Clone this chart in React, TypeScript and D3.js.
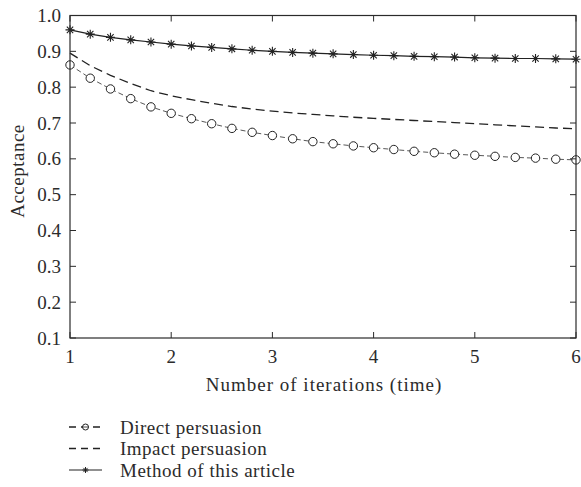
import React, { useEffect, useRef } from 'react';
import * as d3 from 'd3';

// iterations sampled every 0.2
const iterations = [1, 1.2, 1.4, 1.6, 1.8, 2, 2.2, 2.4, 2.6, 2.8, 3, 3.2, 3.4, 3.6, 3.8, 4, 4.2, 4.4, 4.6, 4.8, 5, 5.2, 5.4, 5.6, 5.8, 6];

const directPersuasion = [0.862, 0.825, 0.795, 0.768, 0.745, 0.727, 0.712, 0.698, 0.685, 0.674, 0.665, 0.656, 0.648, 0.642, 0.636, 0.631, 0.626, 0.621, 0.617, 0.613, 0.61, 0.607, 0.604, 0.602, 0.599, 0.597];
const impactPersuasion = [0.895, 0.86, 0.833, 0.81, 0.79, 0.776, 0.765, 0.755, 0.746, 0.739, 0.733, 0.728, 0.724, 0.72, 0.716, 0.713, 0.71, 0.707, 0.704, 0.701, 0.698, 0.695, 0.692, 0.689, 0.686, 0.684];
const methodArticle = [0.96, 0.948, 0.939, 0.932, 0.926, 0.92, 0.915, 0.911, 0.907, 0.903, 0.9, 0.897, 0.895, 0.893, 0.891, 0.889, 0.888, 0.886, 0.885, 0.884, 0.882, 0.881, 0.88, 0.88, 0.879, 0.878];

const xTicks = [1, 2, 3, 4, 5, 6];
const yTicks = [0.1, 0.2, 0.3, 0.4, 0.5, 0.6, 0.7, 0.8, 0.9, 1.0];
const legendLabels = ['Direct persuasion', 'Impact persuasion', 'Method of this article'];

const FONT = '"Liberation Serif", "DejaVu Serif", serif';
const INK = '#2b2b2b';

const App = () => {
  const svgRef = useRef<SVGSVGElement>(null);

  useEffect(() => {
    const svg = d3.select(svgRef.current);
    svg.selectAll('*').remove();

    const width = 581;
    const height = 487;
    const margin = { top: 15.5, right: 5, bottom: 149, left: 70 };
    const innerW = width - margin.left - margin.right;
    const innerH = height - margin.top - margin.bottom;

    const x = d3.scaleLinear().domain([1, 6]).range([0, innerW]);
    const y = d3.scaleLinear().domain([0.1, 1.0]).range([innerH, 0]);

    const g = svg.append('g').attr('transform', `translate(${margin.left},${margin.top})`);

    const line = d3.line<number>()
      .x((d, i) => x(iterations[i]))
      .y(d => y(d));

    // Impact persuasion: dashed, no markers
    g.append('path')
      .datum(impactPersuasion)
      .attr('d', line)
      .attr('fill', 'none')
      .attr('stroke', '#222')
      .attr('stroke-width', 1.3)
      .attr('stroke-dasharray', '9,5');

    // Direct persuasion: thin dashed with circles
    g.append('path')
      .datum(directPersuasion)
      .attr('d', line)
      .attr('fill', 'none')
      .attr('stroke', '#444')
      .attr('stroke-width', 0.9)
      .attr('stroke-dasharray', '5,3');

    g.selectAll('.circ')
      .data(directPersuasion)
      .enter()
      .append('circle')
      .attr('class', 'circ')
      .attr('cx', (d, i) => x(iterations[i]))
      .attr('cy', d => y(d))
      .attr('r', 4.2)
      .attr('fill', 'white')
      .attr('stroke', '#222')
      .attr('stroke-width', 1);

    // Method of this article: solid with asterisks
    g.append('path')
      .datum(methodArticle)
      .attr('d', line)
      .attr('fill', 'none')
      .attr('stroke', '#222')
      .attr('stroke-width', 1.2);

    const star = (r: number) => {
      const a = r * Math.SQRT1_2;
      return `M${-r},0L${r},0M0,${-r}L0,${r}M${-a},${-a}L${a},${a}M${-a},${a}L${a},${-a}`;
    };

    g.selectAll('.star')
      .data(methodArticle)
      .enter()
      .append('path')
      .attr('class', 'star')
      .attr('transform', (d, i) => `translate(${x(iterations[i])},${y(d)})`)
      .attr('d', star(4.5))
      .attr('stroke', '#222')
      .attr('stroke-width', 1.1);

    // Box frame
    g.append('rect')
      .attr('width', innerW)
      .attr('height', innerH)
      .attr('fill', 'none')
      .attr('stroke', INK)
      .attr('stroke-width', 1.2);

    const tickLen = 6;
    // x ticks bottom & top
    xTicks.forEach(t => {
      g.append('line').attr('x1', x(t)).attr('x2', x(t)).attr('y1', innerH).attr('y2', innerH - tickLen)
        .attr('stroke', INK).attr('stroke-width', 1);
      g.append('line').attr('x1', x(t)).attr('x2', x(t)).attr('y1', 0).attr('y2', tickLen)
        .attr('stroke', INK).attr('stroke-width', 1);
      g.append('text')
        .attr('x', x(t))
        .attr('y', innerH + 24.5)
        .attr('text-anchor', 'middle')
        .style('font-family', FONT)
        .style('font-size', '19px')
        .attr('fill', INK)
        .text(d3.format('d')(t));
    });

    // y ticks left & right
    yTicks.forEach(t => {
      g.append('line').attr('x1', 0).attr('x2', tickLen).attr('y1', y(t)).attr('y2', y(t))
        .attr('stroke', INK).attr('stroke-width', 1);
      g.append('line').attr('x1', innerW).attr('x2', innerW - tickLen).attr('y1', y(t)).attr('y2', y(t))
        .attr('stroke', INK).attr('stroke-width', 1);
      g.append('text')
        .attr('x', -9)
        .attr('y', y(t))
        .attr('dy', '0.35em')
        .attr('text-anchor', 'end')
        .style('font-family', FONT)
        .style('font-size', '19px')
        .attr('fill', INK)
        .text(d3.format('.1f')(t));
    });

    // axis titles
    g.append('text')
      .attr('x', innerW / 2 + 1)
      .attr('y', innerH + 53)
      .attr('text-anchor', 'middle')
      .style('font-family', FONT)
      .style('font-size', '19px')
      .style('letter-spacing', '1px')
      .attr('fill', INK)
      .text('Number of iterations (time)');

    svg.append('text')
      .attr('transform', `translate(24,171) rotate(-90)`)
      .attr('text-anchor', 'middle')
      .style('font-family', FONT)
      .style('font-size', '19px')
      .style('letter-spacing', '0.5px')
      .attr('fill', INK)
      .text('Acceptance');

    // legend
    const lg = svg.append('g').attr('transform', 'translate(69,427)');
    const rowH = 21.5;
    legendLabels.forEach((label, i) => {
      const row = lg.append('g').attr('transform', `translate(0,${i * rowH})`);
      if (i === 0) {
        row.append('line').attr('x1', 0).attr('x2', 33).attr('y1', 0).attr('y2', 0)
          .attr('stroke', '#222').attr('stroke-width', 1.3).attr('stroke-dasharray', '7,5');
        row.append('circle').attr('cx', 16.5).attr('cy', 0).attr('r', 3)
          .attr('fill', 'white').attr('stroke', '#222').attr('stroke-width', 1);
        row.append('line').attr('x1', 13.5).attr('x2', 19.5).attr('y1', 0).attr('y2', 0)
          .attr('stroke', '#222').attr('stroke-width', 0.8);
      } else if (i === 1) {
        row.append('line').attr('x1', 0).attr('x2', 33).attr('y1', 0).attr('y2', 0)
          .attr('stroke', '#222').attr('stroke-width', 1.3).attr('stroke-dasharray', '7,5');
      } else {
        row.append('line').attr('x1', 0).attr('x2', 33).attr('y1', 0).attr('y2', 0)
          .attr('stroke', '#222').attr('stroke-width', 1.1);
        row.append('path').attr('transform', 'translate(16.5,0)').attr('d', star(3))
          .attr('stroke', '#222').attr('stroke-width', 1);
      }
      row.append('text')
        .attr('x', 51)
        .attr('y', 0)
        .attr('dy', '0.35em')
        .style('font-family', FONT)
        .style('font-size', '19px')
        .style('letter-spacing', '0.5px')
        .attr('fill', INK)
        .text(label);
    });
  }, []);

  return (
    <svg
      ref={svgRef}
      width={581}
      height={487}
      style={{ position: 'absolute', left: 0, top: 0, background: 'white' }}
    ></svg>
  );
};

export default App;
